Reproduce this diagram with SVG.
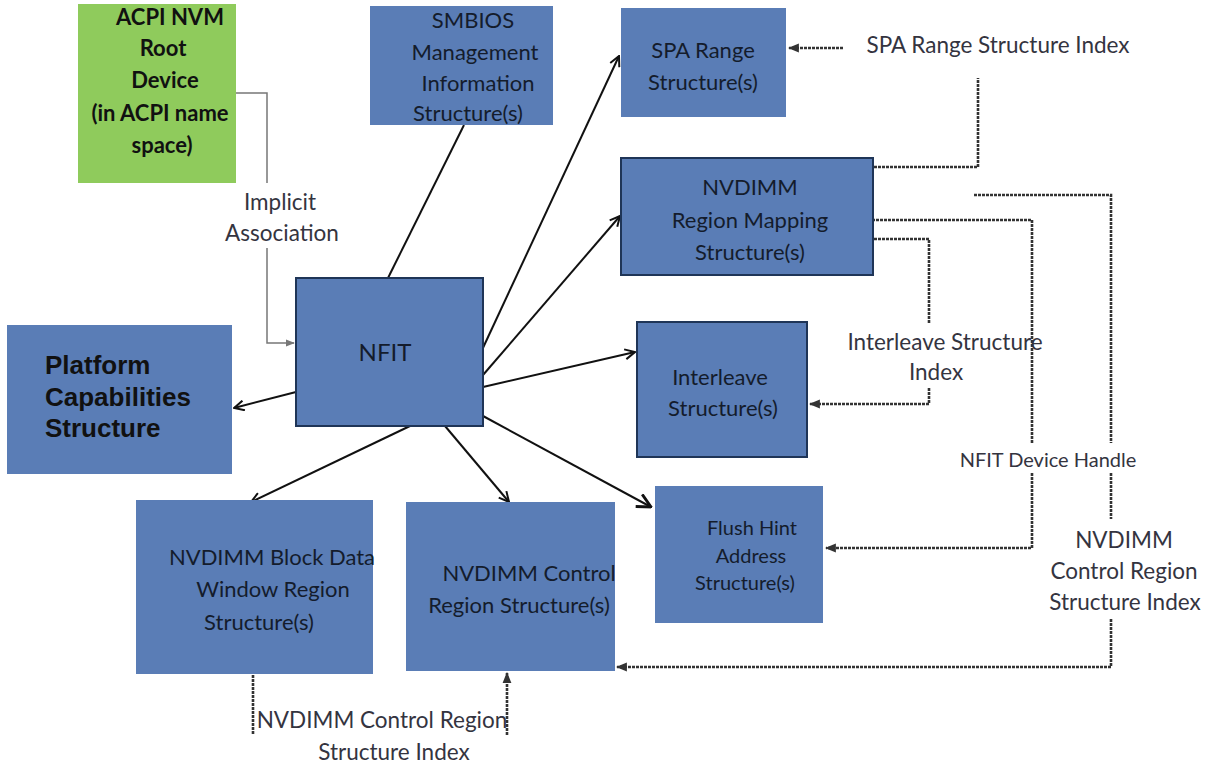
<svg xmlns="http://www.w3.org/2000/svg" width="1206" height="765" viewBox="0 0 1206 765">
<defs>
<style>
.box{fill:#5A7DB6}
.bd{stroke:#1F3557;stroke-width:2}
.t{font-family:Lato,"Liberation Sans",sans-serif;font-size:22px;fill:#141C2C;text-anchor:middle}
.l{font-family:Lato,"Liberation Sans",sans-serif;font-size:22.5px;fill:#34343F;text-anchor:middle}
.gb{font-family:Lato,"Liberation Sans",sans-serif;font-size:22px;font-weight:bold;fill:#111;text-anchor:middle}
.pb{font-family:"Liberation Sans",Arial,sans-serif;font-size:26px;font-weight:bold;fill:#111}
.s{fill:none;stroke:#111;stroke-width:2}
.d{fill:none;stroke:#333;stroke-width:2.6;stroke-dasharray:3 1}
.g{fill:none;stroke:#777;stroke-width:1.5}
</style>
<marker id="open" viewBox="0 0 12 12" refX="11" refY="6" markerWidth="12" markerHeight="12" markerUnits="userSpaceOnUse" orient="auto">
<path d="M1,1 L11,6 L1,11" fill="none" stroke="#111" stroke-width="2"/>
</marker>
<marker id="openb" viewBox="0 0 14 14" refX="13" refY="7" markerWidth="16" markerHeight="16" markerUnits="userSpaceOnUse" orient="auto">
<path d="M1,1 L13,7 L1,13" fill="none" stroke="#111" stroke-width="2.5"/>
</marker>
<marker id="tri" viewBox="0 0 10 10" refX="9" refY="5" markerWidth="11" markerHeight="11" markerUnits="userSpaceOnUse" orient="auto">
<path d="M0,1 L10,5 L0,9 Z" fill="#333"/>
</marker>
<marker id="trig" viewBox="0 0 10 10" refX="9" refY="5" markerWidth="9" markerHeight="9" markerUnits="userSpaceOnUse" orient="auto">
<path d="M0,1 L10,5 L0,9 Z" fill="#777"/>
</marker>
</defs>
<rect width="1206" height="765" fill="#fff"/>

<g id="connectors">
<path class="g" d="M236,93 H267 V183"/>
<path class="g" d="M267,248 V343 H294" marker-end="url(#trig)"/>
<line class="s" x1="296" y1="392" x2="234" y2="408" marker-end="url(#open)"/>
<line class="s" x1="388" y1="278" x2="464" y2="125"/>
<line class="s" x1="482" y1="350" x2="619" y2="56" marker-end="url(#open)"/>
<line class="s" x1="483" y1="375" x2="620" y2="216" marker-end="url(#open)"/>
<line class="s" x1="483" y1="387" x2="635" y2="352" marker-end="url(#open)"/>
<line class="s" x1="483" y1="416" x2="651" y2="507" stroke-width="3" marker-end="url(#openb)"/>
<line class="s" x1="410" y1="426" x2="251" y2="502" marker-end="url(#open)"/>
<line class="s" x1="445" y1="426" x2="509" y2="502" marker-end="url(#open)"/>
<path class="d" d="M843,48 H789" marker-end="url(#tri)"/>
<path class="d" d="M874,167 H978 V78"/>
<path class="d" d="M974,195 H1111 V443"/>
<path class="d" d="M1111,473 V519"/>
<path class="d" d="M1111,619 V667 H617" marker-end="url(#tri)"/>
<path class="d" d="M864,220 H1032 V443"/>
<path class="d" d="M1032,473 V548 H826" marker-end="url(#tri)"/>
<path class="d" d="M874,239 H929 V323"/>
<path class="d" d="M929,388 V404 H810" marker-end="url(#tri)"/>
<path class="d" d="M253,667 V735"/>
<path class="d" d="M507,735 V673" marker-end="url(#tri)"/>
</g>

<g id="acpi-root">
<rect x="78" y="4" width="158" height="179" fill="#8FCB5C"/>
<text class="gb" x="170" y="25">ACPI NVM</text>
<text class="gb" x="163" y="56">Root</text>
<text class="gb" x="165" y="88">Device</text>
<text class="gb" x="160" y="121">(in ACPI name</text>
<text class="gb" x="162" y="153">space)</text>
</g>

<g id="implicit-label">
<text class="l" x="280" y="210">Implicit</text>
<text class="l" x="282" y="241">Association</text>
</g>

<g id="smbios">
<rect class="box" x="370" y="6" width="183" height="119"/>
<text class="t" x="473" y="28">SMBIOS</text>
<text class="t" x="475" y="60">Management</text>
<text class="t" x="478" y="91">Information</text>
<text class="t" x="468" y="121">Structure(s)</text>
</g>

<g id="spa-range">
<rect class="box" x="621" y="8" width="165" height="109"/>
<text class="t" x="703" y="58">SPA Range</text>
<text class="t" x="703" y="90">Structure(s)</text>
</g>

<g id="spa-index-label">
<text class="l" x="998" y="53">SPA Range Structure Index</text>
</g>

<g id="region-mapping">
<rect class="box bd" x="621" y="158" width="252" height="117"/>
<text class="t" x="750" y="195">NVDIMM</text>
<text class="t" x="750" y="228">Region Mapping</text>
<text class="t" x="750" y="260">Structure(s)</text>
</g>

<g id="nfit">
<rect class="box bd" x="296" y="278" width="187" height="148"/>
<text class="t" x="385" y="361" style="font-size:24px">NFIT</text>
</g>

<g id="platform">
<rect class="box" x="7" y="325" width="225" height="149"/>
<text class="pb" x="45" y="374">Platform</text>
<text class="pb" x="45" y="406">Capabilities</text>
<text class="pb" x="45" y="437">Structure</text>
</g>

<g id="interleave">
<rect class="box bd" x="637" y="322" width="170" height="135"/>
<text class="t" x="720" y="385">Interleave</text>
<text class="t" x="723" y="416">Structure(s)</text>
</g>

<g id="interleave-index-label">
<text class="l" x="945" y="350">Interleave Structure</text>
<text class="l" x="936" y="380">Index</text>
</g>

<g id="device-handle-label">
<text class="l" x="1048" y="467" style="font-size:20px">NFIT Device Handle</text>
</g>

<g id="ctrl-index-label-right">
<text class="l" x="1124" y="548">NVDIMM</text>
<text class="l" x="1124" y="579">Control Region</text>
<text class="l" x="1125" y="610">Structure Index</text>
</g>

<g id="flush-hint">
<rect class="box" x="655" y="486" width="168" height="137"/>
<text class="t" x="752" y="535" style="font-size:20px">Flush Hint</text>
<text class="t" x="751" y="563" style="font-size:20px">Address</text>
<text class="t" x="745" y="590" style="font-size:20px">Structure(s)</text>
</g>

<g id="block-data">
<rect class="box" x="136" y="500" width="237" height="174"/>
<text class="t" x="272" y="565">NVDIMM Block Data</text>
<text class="t" x="273" y="597">Window  Region</text>
<text class="t" x="259" y="630">Structure(s)</text>
</g>

<g id="control-region">
<rect class="box" x="406" y="502" width="209" height="169"/>
<text class="t" x="529" y="581">NVDIMM Control</text>
<text class="t" x="519" y="613">Region Structure(s)</text>
</g>

<g id="ctrl-index-label-bottom">
<text class="l" x="382" y="728">NVDIMM Control Region</text>
<text class="l" x="394" y="760">Structure Index</text>
</g>
</svg>
